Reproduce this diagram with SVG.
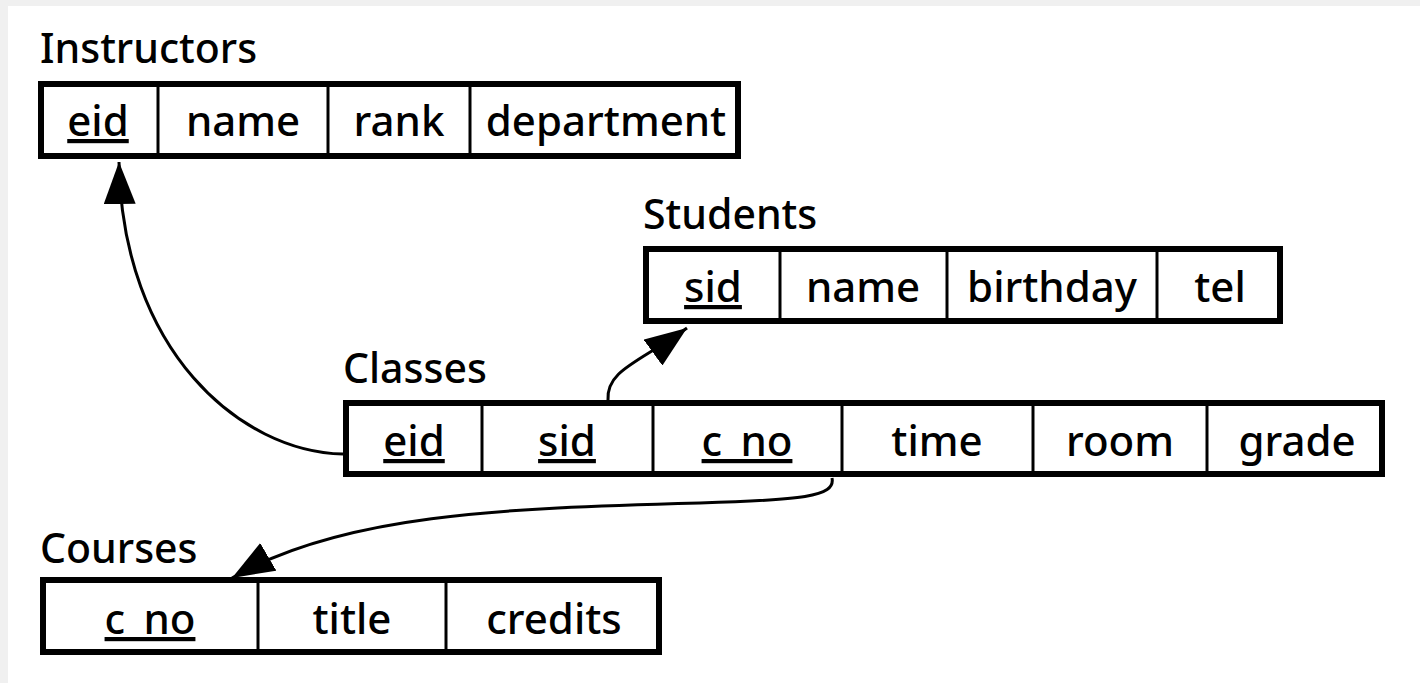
<svg xmlns="http://www.w3.org/2000/svg" width="1420" height="683" viewBox="0 0 1420 683">
  <defs>
    <style>
      .frame { fill: none; stroke: #000; stroke-width: 6; }
      .div { stroke: #000; stroke-width: 3; }
      .title { font-family: "Noto Sans", "Open Sans", sans-serif; font-size: 41px; font-weight: 500; fill: #000; }
      .cell { font-family: "Noto Sans", "Open Sans", sans-serif; font-size: 42px; font-weight: 500; fill: #000; text-anchor: middle; }
      .key { text-decoration: underline; }
      .link { fill: none; stroke: #000; stroke-width: 3; }
    </style>
    <marker id="arrow" markerUnits="userSpaceOnUse" viewBox="0 0 42 32" refX="42" refY="16" markerWidth="42" markerHeight="32" orient="auto">
      <path d="M0,0 L42,16 L0,32 z" fill="#000"/>
    </marker>
  </defs>

  <!-- page -->
  <rect x="0" y="0" width="1420" height="683" fill="#ffffff"/>
  <rect x="0" y="0" width="1420" height="6" fill="#f0f0f0"/>
  <rect x="0" y="0" width="8" height="683" fill="#f0f0f0"/>

  <!-- Instructors -->
  <g id="instructors">
    <text class="title" x="40" y="63">Instructors</text>
    <rect class="frame" x="41" y="84" width="697" height="72" fill="#fff"/>
    <line class="div" x1="158" y1="84" x2="158" y2="156"/>
    <line class="div" x1="328" y1="84" x2="328" y2="156"/>
    <line class="div" x1="470" y1="84" x2="470" y2="156"/>
    <text class="cell key" x="98" y="136">eid</text>
    <text class="cell" x="243" y="136">name</text>
    <text class="cell" x="399" y="136">rank</text>
    <text class="cell" x="606" y="136">department</text>
  </g>

  <!-- Students -->
  <g id="students">
    <text class="title" x="643" y="229">Students</text>
    <rect class="frame" x="646" y="249" width="634" height="72" fill="#fff"/>
    <line class="div" x1="780" y1="249" x2="780" y2="321"/>
    <line class="div" x1="947" y1="249" x2="947" y2="321"/>
    <line class="div" x1="1157" y1="249" x2="1157" y2="321"/>
    <text class="cell key" x="713" y="302">sid</text>
    <text class="cell" x="863" y="302">name</text>
    <text class="cell" x="1052" y="302">birthday</text>
    <text class="cell" x="1220" y="302">tel</text>
  </g>

  <!-- Classes -->
  <g id="classes">
    <text class="title" x="343" y="383">Classes</text>
    <rect class="frame" x="346" y="403" width="1036" height="71" fill="#fff"/>
    <line class="div" x1="482" y1="403" x2="482" y2="474"/>
    <line class="div" x1="653" y1="403" x2="653" y2="474"/>
    <line class="div" x1="842" y1="403" x2="842" y2="474"/>
    <line class="div" x1="1033" y1="403" x2="1033" y2="474"/>
    <line class="div" x1="1207" y1="403" x2="1207" y2="474"/>
    <text class="cell key" x="414" y="456">eid</text>
    <text class="cell key" x="567" y="456">sid</text>
    <text class="cell key" x="747" y="456">c_no</text>
    <text class="cell" x="937" y="456">time</text>
    <text class="cell" x="1120" y="456">room</text>
    <text class="cell" x="1297" y="456">grade</text>
  </g>

  <!-- Courses -->
  <g id="courses">
    <text class="title" x="40" y="563">Courses</text>
    <rect class="frame" x="43" y="580" width="616" height="72" fill="#fff"/>
    <line class="div" x1="258" y1="580" x2="258" y2="652"/>
    <line class="div" x1="446" y1="580" x2="446" y2="652"/>
    <text class="cell key" x="150" y="634">c_no</text>
    <text class="cell" x="352" y="634">title</text>
    <text class="cell" x="554" y="634">credits</text>
  </g>

  <!-- foreign-key references -->
  <g id="connectors">
    <path class="link" d="M343,454 C240,452 122,350 119,162" marker-end="url(#arrow)"/>
    <path class="link" d="M608,400 C606,370 640,362 687,328" marker-end="url(#arrow)"/>
    <path class="link" d="M832,478 C836,497 800,500 700,503 C500,508 340,515 232,578" marker-end="url(#arrow)"/>
  </g>
</svg>
